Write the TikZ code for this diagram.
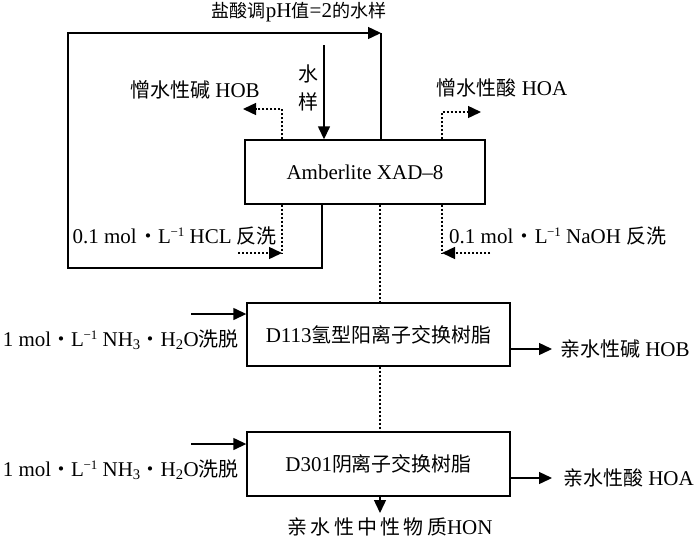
\documentclass[tikz,border=0pt]{standalone}
\usepackage{fontspec}
\setmainfont{Liberation Serif}
\newfontfamily\cjk[Scale=0.95]{Noto Sans CJK SC}
\usetikzlibrary{arrows.meta,calc}
\newcommand\zh[1]{{\cjk #1}}
\newcommand\mdot{\hspace{1.5pt}{\cjk ・}}
\newcommand\ndot{{\cjk ・}}
\newcommand\minusone{\kern-0.5pt{\fontsize{13}{13}\selectfont\raisebox{7.5pt}{−1}}}
\begin{document}
\begin{tikzpicture}[x=1pt,y=-1pt,
  every node/.style={font=\fontsize{21}{25}\selectfont, inner sep=0pt},
  box/.style={draw,line width=1.4pt,minimum width=263pt,minimum height=63pt},
  ln/.style={line width=1.4pt},
  arr/.style={line width=1.4pt,-{Triangle[length=13pt,width=12pt]}},
  dotln/.style={line width=1.4pt,dash pattern=on 2pt off 2pt},
  dotarr/.style={dotln,-{Triangle[length=13pt,width=12pt]}}]
\useasboundingbox (0,0) rectangle (700,544);
% boxes
\node[box,minimum width=240pt,minimum height=64pt] (b1) at (365,172) {Amberlite XAD--8};
\node[box] (b2) at (378.5,334.5) {D113\zh{氢型阳离子交换树脂}};
\node[box,minimum height=64pt] (b3) at (378.5,464) {D301\zh{阴离子交换树脂}};
% labels
\node (top) at (299,12) {{\cjk\fontsize{19}{24}\selectfont 盐酸调}pH{\cjk\fontsize{19}{24}\selectfont 值}=2{\cjk\fontsize{19}{24}\selectfont 的水样}};
\node[align=center,font=\fontsize{21}{28}\selectfont\cjk] (sy) at (308,88) {水\\样};
\node (hob) at (195,90) {\zh{憎水性碱} HOB};
\node (hoa) at (502,88) {\zh{憎水性酸} HOA};
\node[anchor=east] (hcl) at (277,236) {0.1 mol\mdot L\minusone{} HCL \zh{反洗}};
\node[anchor=west] (naoh) at (449,236) {0.1 mol\mdot L\minusone{} NaOH \zh{反洗}};
\node[anchor=east] (e2) at (239,340) {1 mol\ndot L\minusone{} NH\textsubscript{3}\ndot H\textsubscript{2}O\zh{洗脱}};
\node[anchor=east] (e3) at (239,470) {1 mol\ndot L\minusone{} NH\textsubscript{3}\ndot H\textsubscript{2}O\zh{洗脱}};
\node[anchor=west] (o2) at (560,349) {\zh{亲水性碱} HOB};
\node[anchor=west] (o3) at (563,478) {\zh{亲水性酸} HOA};
\node (hon) at (390,527) {\zh{亲\,水\,性\,中\,性\,物\,质}HON};
% coordinates
\coordinate (lp1) at (322,268);
\coordinate (lp2) at (68,268);
\coordinate (lp3) at (68,33);
\coordinate (lp4) at (381,33);
\coordinate (s0) at (324,45);
\coordinate (hbx) at (282,109);
\coordinate (hbt) at (243,109);
\coordinate (hax) at (442,112);
\coordinate (hat) at (481,112);
\coordinate (hcx) at (282,253);
\coordinate (hcs) at (238,253);
\coordinate (ncx) at (442,253);
\coordinate (ncs) at (490,253);
\coordinate (cx) at (380,0);
\coordinate (i2) at (191,314);
\coordinate (i3) at (191,444);
\coordinate (o2t) at (552,349);
\coordinate (o3t) at (552,478);
\coordinate (hont) at (380,513);
% loop
\draw[arr] (b1.south -| lp1) -- (lp1) -- (lp2) -- (lp3) -- (lp4);
\draw[ln] (lp4) -- (lp4 |- b1.north);
% sample
\draw[arr] (s0) -- (s0 |- b1.north);
% dotted outputs
\draw[dotarr] (b1.north -| hbx) -- (hbx) -- (hbt);
\draw[dotarr] (b1.north -| hax) -- (hax) -- (hat);
\draw[dotln] (b1.south -| hcx) -- (hcx);
\draw[dotarr] (hcs) -- (hcx);
\draw[dotln] (b1.south -| ncx) -- (ncx);
\draw[dotarr] (ncs) -- (ncx);
% centre
\draw[dotln] (b1.south -| cx) -- (b2.north -| cx);
\draw[dotln] (b2.south -| cx) -- (b3.north -| cx);
\draw[arr] (b3.south -| cx) -- (hont);
% inputs/outputs
\draw[arr] (i2) -- (i2 -| b2.west);
\draw[arr] (i3) -- (i3 -| b3.west);
\draw[arr] (o2t -| b2.east) -- (o2t);
\draw[arr] (o3t -| b3.east) -- (o3t);
\end{tikzpicture}
\end{document}
